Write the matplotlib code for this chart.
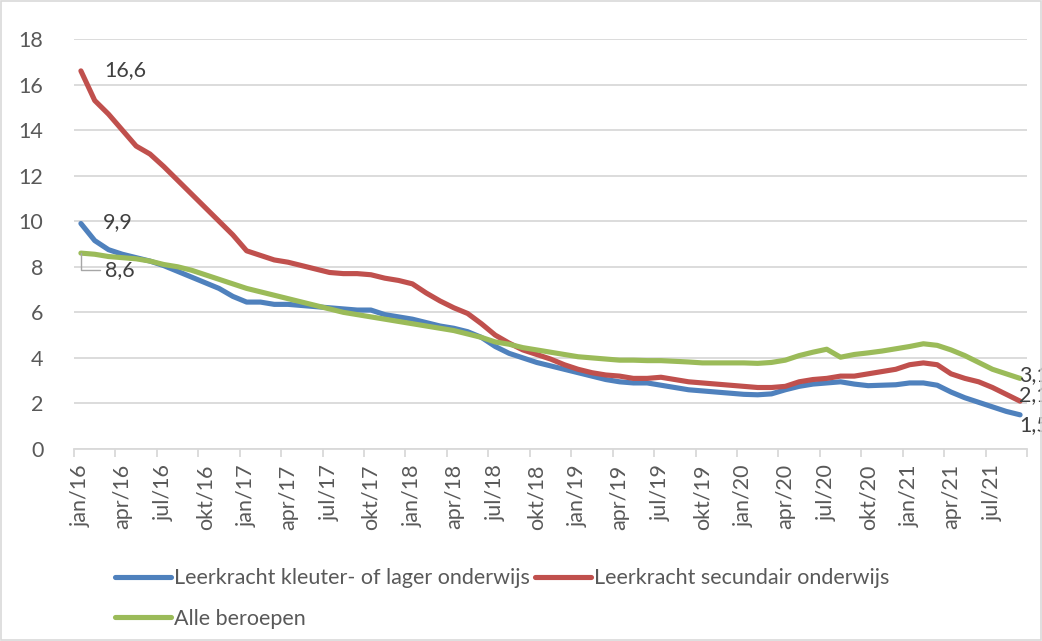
import matplotlib
matplotlib.use("Agg")
import matplotlib.pyplot as plt
from matplotlib.patches import Rectangle

plt.rcParams['font.family'] = ['Lato', 'DejaVu Sans']

# Monthly data jan/16 .. sep/21
months_nl = ["jan", "feb", "mrt", "apr", "mei", "jun", "jul", "aug", "sep", "okt", "nov", "dec"]
years = ["16", "17", "18", "19", "20", "21"]
categories = [f"{m}/{y}" for y in years for m in months_nl][:69]

kleuter_lager = [9.9, 9.15, 8.75, 8.55, 8.4, 8.25, 8.05, 7.8, 7.55, 7.3, 7.05, 6.7,
                 6.45, 6.45, 6.35, 6.35, 6.3, 6.25, 6.2, 6.15, 6.1, 6.1, 5.9, 5.8,
                 5.7, 5.55, 5.4, 5.3, 5.15, 4.9, 4.5, 4.2, 4.0, 3.8, 3.65, 3.5,
                 3.35, 3.2, 3.05, 2.95, 2.9, 2.9, 2.8, 2.7, 2.6, 2.55, 2.5, 2.45,
                 2.4, 2.38, 2.42, 2.6, 2.75, 2.85, 2.9, 2.95, 2.85, 2.78, 2.8, 2.82,
                 2.9, 2.9, 2.8, 2.5, 2.25, 2.05, 1.85, 1.65, 1.5]

secundair = [16.6, 15.3, 14.7, 14.0, 13.3, 12.95, 12.4, 11.8, 11.2, 10.6, 10.0, 9.4,
             8.7, 8.5, 8.3, 8.2, 8.05, 7.9, 7.75, 7.7, 7.7, 7.65, 7.5, 7.4,
             7.25, 6.85, 6.5, 6.2, 5.95, 5.5, 5.0, 4.65, 4.35, 4.15, 3.95, 3.7,
             3.5, 3.35, 3.25, 3.2, 3.1, 3.1, 3.15, 3.05, 2.95, 2.9, 2.85, 2.8,
             2.75, 2.7, 2.7, 2.75, 2.95, 3.05, 3.1, 3.2, 3.2, 3.3, 3.4, 3.5,
             3.7, 3.78, 3.7, 3.3, 3.1, 2.95, 2.7, 2.4, 2.1]

alle = [8.6, 8.55, 8.45, 8.4, 8.35, 8.25, 8.1, 8.0, 7.85, 7.65, 7.45, 7.25,
        7.05, 6.9, 6.75, 6.6, 6.45, 6.3, 6.15, 6.0, 5.9, 5.8, 5.7, 5.6,
        5.5, 5.4, 5.3, 5.2, 5.05, 4.9, 4.7, 4.6, 4.45, 4.35, 4.25, 4.15,
        4.05, 4.0, 3.95, 3.9, 3.9, 3.88, 3.88, 3.85, 3.82, 3.78, 3.78, 3.78,
        3.78, 3.76, 3.8, 3.9, 4.1, 4.25, 4.38, 4.03, 4.15, 4.22, 4.3, 4.4,
        4.5, 4.62, 4.55, 4.35, 4.1, 3.8, 3.5, 3.3, 3.1]

series_names = ["Leerkracht kleuter- of lager onderwijs",
                "Leerkracht secundair onderwijs",
                "Alle beroepen"]
colors = ["#4F81BD", "#C0504D", "#9BBB59"]

yticks = list(range(0, 19, 2))

fig = plt.figure(figsize=(10.42, 6.41), dpi=100)
fig.patch.set_facecolor("white")
ax = fig.add_axes([74 / 1042, 1 - 449 / 641, (1027 - 74) / 1042, (449 - 39) / 641])

x = list(range(len(categories)))
lw = 3.7
kw = dict(lw=lw, solid_capstyle="round", solid_joinstyle="round", zorder=3)
l1, = ax.plot(x, kleuter_lager, color=colors[0], **kw)
l2, = ax.plot(x, secundair, color=colors[1], **kw)
l3, = ax.plot(x, alle, color=colors[2], **kw)

ax.set_xlim(-0.5, len(categories) - 0.5)
ax.set_ylim(0, 18)
ax.set_yticks(yticks)
ax.set_yticklabels([str(v) for v in yticks])
ax.grid(axis="y", color="#D9D9D9", lw=1.3, zorder=0)
ax.set_axisbelow(True)

for s in ["top", "right", "left"]:
    ax.spines[s].set_visible(False)
ax.spines["bottom"].set_color("#D9D9D9")
ax.spines["bottom"].set_linewidth(1.3)

fs = 15.5
lab_idx = list(range(0, len(categories), 3))
ax.set_xticks(lab_idx)
ax.set_xticklabels([categories[i] for i in lab_idx], rotation=90)
ax.set_xticks([i - 0.5 for i in range(0, len(categories) + 1, 3)], minor=True)
ax.tick_params(axis="x", which="major", length=0, pad=11, labelsize=fs, labelcolor="#595959")
ax.tick_params(axis="x", which="minor", length=6, width=1.3, color="#D9D9D9", direction="out")
ax.tick_params(axis="y", length=0, pad=22, labelsize=fs, labelcolor="#595959")

tc = "#404040"
ax.text(1.7, secundair[0] + 0.05, "16,6", color=tc, fontsize=fs, ha="left", va="center")
ax.text(1.6, kleuter_lager[0] + 0.05, "9,9", color=tc, fontsize=fs, ha="left", va="center")
ax.annotate("8,6", xy=(0, alle[0]), xytext=(1.75, 7.85), color=tc, fontsize=fs,
            ha="left", va="center",
            arrowprops=dict(arrowstyle="-", color="#A6A6A6", lw=1,
                            connectionstyle="angle,angleA=0,angleB=90,rad=0",
                            shrinkA=2, shrinkB=0))
n = len(categories) - 1
ax.text(n - 0.05, 3.25, "3,1", color=tc, fontsize=fs, ha="left", va="center", clip_on=False)
ax.text(n - 0.05, 2.37, "2,1", color=tc, fontsize=fs, ha="left", va="center", clip_on=False)
ax.text(n - 0.05, 1.05, "1,5", color=tc, fontsize=fs, ha="left", va="center", clip_on=False)

leg = fig.legend([l1, l3, l2], [series_names[0], series_names[2], series_names[1]],
                 ncol=2, loc="upper left", bbox_to_anchor=(96 / 1042, 1 - 549 / 641),
                 frameon=False, fontsize=fs, handlelength=2.6, handletextpad=0.12,
                 columnspacing=0.25, labelspacing=0.95, labelcolor="#595959")

fig.add_artist(Rectangle((0.001, 0.001), 0.998, 0.997, transform=fig.transFigure,
                         fill=False, edgecolor="#D9D9D9", lw=1.2))

fig.savefig("out.png", dpi=100, facecolor="white")
